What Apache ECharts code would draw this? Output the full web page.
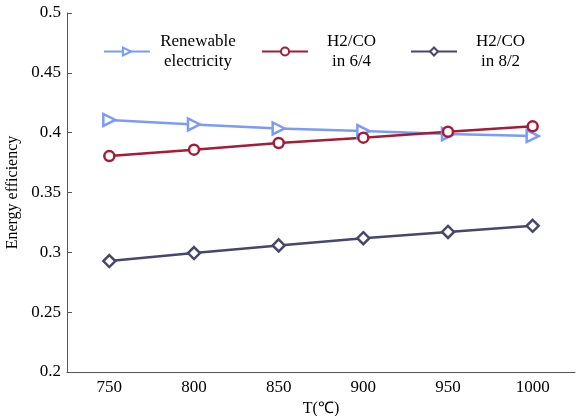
<!DOCTYPE html>
<html lang="en">
<head>
    <meta charset="UTF-8">
    <title>Energy efficiency</title>
    <script src="https://cdn.jsdelivr.net/npm/echarts@6/dist/echarts.min.js"></script>
</head>
<body style="margin:0">
    <div id="main" style="width: 576px;height:416px;"></div>
<script>
    // 数据
    var temps = ['750', '800', '850', '900', '950', '1000'];
    var renewable = [0.4106, 0.4069, 0.4035, 0.4013, 0.3988, 0.3972];
    var h2co64 = [0.3804, 0.3858, 0.3914, 0.3958, 0.4008, 0.4053];
    var h2co82 = [0.2927, 0.2994, 0.3058, 0.3118, 0.3170, 0.3222];
    var seriesNames = ['Renewable\nelectricity', 'H2/CO\nin 6/4', 'H2/CO\nin 8/2'];

    var myChart = echarts.init(document.getElementById('main'));
    var font = 'Liberation Serif';

    function lineSeries(name, data, color, symbol, rotate) {
        return {
            name: name,
            type: 'line',
            data: data,
            symbol: symbol,
            symbolSize: symbol == 'circle' ? 10 : 12,
            symbolRotate: rotate,
            showAllSymbol: true,
            lineStyle: {color: color, width: 2.5},
            itemStyle: {color: '#fff', borderColor: color, borderWidth: 2.5}
        };
    }

    var option = {
        animation: false,
        textStyle: {fontFamily: font},
        grid: {left: 67, right: 1, top: 13, bottom: 44, outerBoundsMode: 'none', containLabel: false},
        legend: {
            left: 98,
            top: 28,
            itemWidth: 46,
            itemHeight: 10,
            itemGap: 20,
            data: seriesNames,
            formatter: function (name) {
                var tag = name == seriesNames[0] ? 'a' : 'b';
                return name.split('\n').map(function (s) { return '{' + tag + '|' + s + '}'; }).join('\n');
            },
            textStyle: {
                fontFamily: font,
                color: '#000',
                rich: {
                    a: {fontFamily: font, fontSize: 17, width: 86, align: 'center', lineHeight: 20, color: '#000'},
                    b: {fontFamily: font, fontSize: 17, width: 77, align: 'center', lineHeight: 20, color: '#000'}
                }
            }
        },
        xAxis: {
            type: 'category',
            data: temps,
            boundaryGap: true,
            name: 'T(℃)',
            nameLocation: 'middle',
            nameGap: 21,
            nameTextStyle: {fontFamily: font, fontSize: 16, color: '#000'},
            axisLine: {lineStyle: {color: '#555', width: 1}},
            axisTick: {inside: true, alignWithLabel: true, length: 5, lineStyle: {color: '#555'}},
            axisLabel: {fontFamily: font, fontSize: 17, color: '#000', margin: 7},
            splitLine: {show: false}
        },
        yAxis: {
            type: 'value',
            min: 0.2,
            max: 0.5,
            interval: 0.05,
            name: 'Energy efficiency',
            nameLocation: 'middle',
            nameGap: 41,
            nameTextStyle: {fontFamily: font, fontSize: 16, color: '#000'},
            axisLine: {show: true, lineStyle: {color: '#555', width: 1}},
            axisTick: {show: true, inside: true, length: 5, lineStyle: {color: '#555'}},
            axisLabel: {fontFamily: font, fontSize: 17, color: '#000', margin: 6},
            splitLine: {show: false}
        },
        series: [
            lineSeries(seriesNames[0], renewable, '#7b9cf5', 'triangle', -90),
            lineSeries(seriesNames[1], h2co64, '#a51c36', 'circle', 0),
            lineSeries(seriesNames[2], h2co82, '#46476b', 'diamond', 0)
        ]
    };

    myChart.setOption(option);
</script>
</body>
</html>
